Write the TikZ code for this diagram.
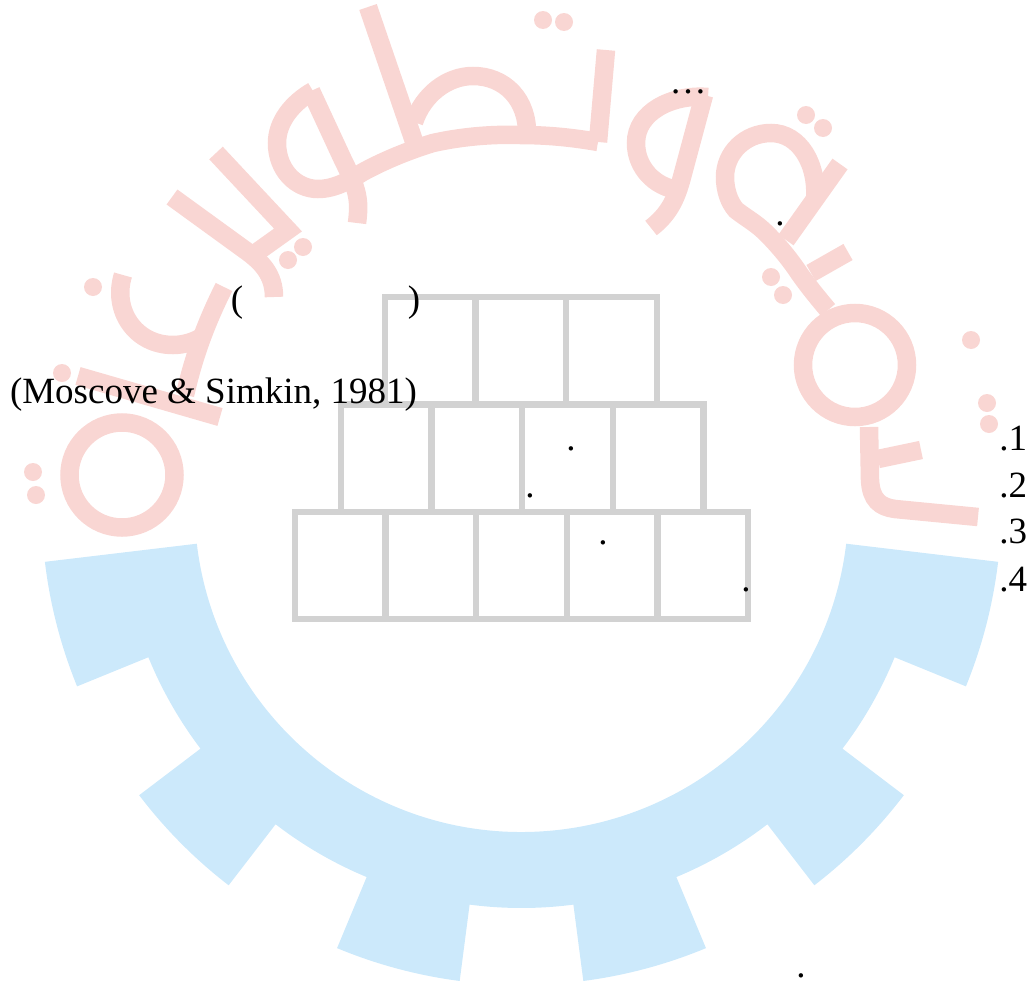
\documentclass[tikz,border=0pt]{standalone}
\usepackage{fontspec}
\setmainfont{Liberation Serif}
\usetikzlibrary{positioning}
\definecolor{gearblue}{HTML}{CCE9FB}
\definecolor{logopink}{HTML}{F9D6D3}
\definecolor{cellgray}{HTML}{D2D2D2}

\begin{document}
\begin{tikzpicture}[
  x=1pt,y=-1pt,
  node distance=0pt,
  cell/.style={draw=cellgray,line width=6.5pt,minimum width=90.6pt,minimum height=107.4pt,
               inner sep=0pt,outer sep=0pt},
  glyph/.style={draw=logopink,line width=18.5pt},
  spot/.style={fill=logopink},
  txt/.style={font=\fontsize{37}{37}\selectfont,inner sep=0pt,outer sep=0pt,anchor=base}
]
\useasboundingbox (0,0) rectangle (1036,985);

% gear
\begin{scope}[shift={(521.5,505)}]
\fill[gearblue] (186.8:327pt) arc[start angle=186.8,end angle=353.2,radius=327pt]
  -- (353.2:480pt) arc[start angle=353.2,end angle=337.8,radius=480pt]
  -- (337.8:403pt) arc[start angle=337.8,end angle=322.8,radius=403pt]
  -- (322.8:480pt) arc[start angle=322.8,end angle=307.6,radius=480pt]
  -- (307.6:403pt) arc[start angle=307.6,end angle=292.6,radius=403pt]
  -- (292.6:480pt) arc[start angle=292.6,end angle=277.4,radius=480pt]
  -- (277.4:403pt) arc[start angle=277.4,end angle=262.6,radius=403pt]
  -- (262.6:480pt) arc[start angle=262.6,end angle=247.4,radius=480pt]
  -- (247.4:403pt) arc[start angle=247.4,end angle=232.4,radius=403pt]
  -- (232.4:480pt) arc[start angle=232.4,end angle=217.2,radius=480pt]
  -- (217.2:403pt) arc[start angle=217.2,end angle=202.2,radius=403pt]
  -- (202.2:480pt) arc[start angle=202.2,end angle=186.8,radius=480pt]
  -- cycle;
\end{scope}

% lettering, left to right
\draw[glyph] (122,475) circle (52.5pt);
\draw[glyph] (78,376) -- (220,417);
\draw[glyph] (224,287) .. controls (210,315) and (195,350) .. (185,395);
\draw[glyph] (123,275) .. controls (112,310) and (135,345) .. (173,345) .. controls (183,345) and (193,342) .. (200,338);
\draw[glyph] (216,153) -- (288,230) -- (253,255);
\draw[glyph] (172,197) -- (245,250) .. controls (262,262) and (274,275) .. (274,297);
\draw[glyph] (313,91) .. controls (292,103) and (277,122) .. (277,143)
  .. controls (277,170) and (296,189) .. (318,189)
  .. controls (335,189) and (350,180) .. (363,172)
  .. controls (385,160) and (410,150) .. (433,143)
  .. controls (460,137) and (490,134) .. (520,135)
  .. controls (550,135) and (575,138) .. (598,142);
\draw[glyph] (311,91) -- (343,160) .. controls (358,190) and (360,200) .. (357,223);
\draw[glyph] (368,7) -- (417,150);
\draw[glyph] (414,122) .. controls (423,95) and (447,76) .. (473,76) .. controls (505,76) and (528,100) .. (527,135);
\draw[glyph] (598,142) -- (606,50);
\draw[glyph] (708,97) .. controls (672,94) and (636,112) .. (636,143) .. controls (636,168) and (655,187) .. (678,190);
\draw[glyph] (704,95) -- (682,177) .. controls (676,200) and (668,215) .. (651,228);
\draw[glyph] (815,200) .. controls (818,165) and (800,133) .. (771,133)
  .. controls (745,133) and (725,153) .. (725,177)
  .. controls (725,190) and (729,202) .. (736,210)
  .. controls (746,218) and (756,223) .. (766,233)
  .. controls (778,245) and (789,258) .. (799,273)
  .. controls (808,286) and (818,298) .. (828,310);
\draw[glyph] (840,164) -- (786,240);
\draw[glyph] (848,252) -- (811,273);
\draw[glyph] (855,365) circle (52pt);
\draw[glyph] (869,427) -- (870,480) .. controls (871,500) and (880,507) .. (895,509) -- (978,517);
\draw[glyph] (921,450) -- (878,459);
\fill[spot] (33,472) circle (9pt);
\fill[spot] (36,495) circle (9pt);
\fill[spot] (62,373) circle (9pt);
\fill[spot] (93,287) circle (9pt);
\fill[spot] (288,260) circle (9pt);
\fill[spot] (303,247) circle (9pt);
\fill[spot] (543,20) circle (9pt);
\fill[spot] (564,22) circle (9pt);
\fill[spot] (771,277) circle (9pt);
\fill[spot] (783,295) circle (9pt);
\fill[spot] (806,115) circle (9pt);
\fill[spot] (823,128) circle (9pt);
\fill[spot] (971,340) circle (9pt);
\fill[spot] (987,403) circle (9pt);
\fill[spot] (989,424) circle (9pt);

% pyramid
\node[cell] (top1) at (430.3,350.7) {};
\node[cell,right=of top1] (top2) {};
\node[cell,right=of top2] (top3) {};
\node[cell] (mid1) at (386.3,458.1) {};
\node[cell,right=of mid1] (mid2) {};
\node[cell,right=of mid2] (mid3) {};
\node[cell,right=of mid3] (mid4) {};
\node[cell] (low1) at (340.3,565.5) {};
\node[cell,right=of low1] (low2) {};
\node[cell,right=of low2] (low3) {};
\node[cell,right=of low3] (low4) {};
\node[cell,right=of low4] (low5) {};

% text
\node[txt,anchor=base west] (cite) at (10,403) {(Moscove \& Simkin, 1981)};
\node[txt] (parl) at (237,311) {(};
\node[txt] (parr) at (414,311) {)};
\node[txt] (dots) at (688,93) {…};
\node[txt] (dota) at (780,225) {.};
\node[txt] (dotb) at (571,450) {.};
\node[txt] (dotc) at (530,497) {.};
\node[txt] (dotd) at (603,544) {.};
\node[txt] (dote) at (746,591) {.};
\node[txt] (dotf) at (801,977) {.};
\node[txt,anchor=base east] (item1) at (1027,450) {.1};
\node[txt,anchor=base east] (item2) at (1027,497) {.2};
\node[txt,anchor=base east] (item3) at (1027,543) {.3};
\node[txt,anchor=base east] (item4) at (1027,591) {.4};
\end{tikzpicture}
\end{document}
